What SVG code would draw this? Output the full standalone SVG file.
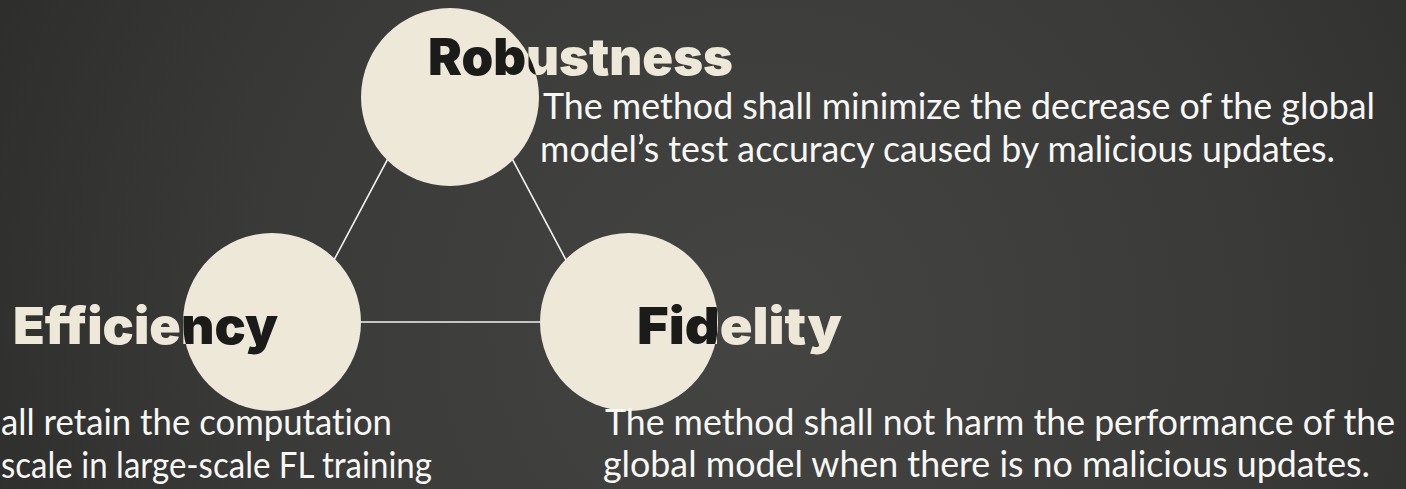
<svg xmlns="http://www.w3.org/2000/svg" width="1406" height="489" viewBox="0 0 1406 489">
  <defs>
    <radialGradient id="bg" cx="760" cy="330" r="820" gradientUnits="userSpaceOnUse">
      <stop offset="0" stop-color="#444443"/>
      <stop offset="0.6" stop-color="#3a3a39"/>
      <stop offset="1" stop-color="#2e2e2d"/>
    </radialGradient>
    <clipPath id="clip-robustness"><circle cx="450" cy="97" r="89"/></clipPath>
    <clipPath id="clip-efficiency"><circle cx="272" cy="322" r="89"/></clipPath>
    <clipPath id="clip-fidelity"><circle cx="629" cy="322" r="89"/></clipPath>
  </defs>
  <style>
    .disc { fill: #ede8d8; }
    .edge { stroke: #f2f2ef; stroke-width: 1.6; fill: none; }
    .title { font-family: Inter, "Liberation Sans", sans-serif; font-weight: 900; font-size: 51px; }
    .title-light { fill: #ede8d8; }
    .title-dark { fill: #1b1b19; }
    .desc { font-family: Lato, "Open Sans", "Liberation Sans", sans-serif; font-size: 36px; fill: #f7f7f4; font-variant-ligatures: none; }
  </style>

  <rect width="1406" height="489" fill="url(#bg)"/>

  <!-- triangle edges, drawn beneath the discs -->
  <g id="connectors">
    <line class="edge" x1="450" y1="42" x2="301" y2="322"/>
    <line class="edge" x1="450" y1="42" x2="599" y2="322"/>
    <line class="edge" x1="301" y1="322" x2="599" y2="322"/>
  </g>

  <g id="node-robustness">
    <circle class="disc" cx="450" cy="97" r="89"/>
    <text class="title title-light" x="428" y="75" textLength="305" lengthAdjust="spacingAndGlyphs">Robustness</text>
    <text class="title title-dark" x="428" y="75" textLength="305" lengthAdjust="spacingAndGlyphs" clip-path="url(#clip-robustness)">Robustness</text>
    <text class="desc" x="543" y="119" textLength="832" lengthAdjust="spacingAndGlyphs">The method shall minimize the decrease of the global</text>
    <text class="desc" x="540" y="162" textLength="795" lengthAdjust="spacingAndGlyphs">model’s test accuracy caused by malicious updates.</text>
  </g>

  <g id="node-efficiency">
    <circle class="disc" cx="272" cy="322" r="89"/>
    <text class="title title-light" x="13" y="344" textLength="265" lengthAdjust="spacingAndGlyphs">Efficiency</text>
    <text class="title title-dark" x="13" y="344" textLength="265" lengthAdjust="spacingAndGlyphs" clip-path="url(#clip-efficiency)">Efficiency</text>
    <text class="desc" x="1" y="435" textLength="391" lengthAdjust="spacingAndGlyphs">all retain the computation</text>
    <text class="desc" x="1" y="478" textLength="431" lengthAdjust="spacingAndGlyphs">scale in large-scale FL training</text>
  </g>

  <g id="node-fidelity">
    <circle class="disc" cx="629" cy="322" r="89"/>
    <text class="title title-light" x="637" y="344" textLength="205" lengthAdjust="spacingAndGlyphs">Fidelity</text>
    <text class="title title-dark" x="637" y="344" textLength="205" lengthAdjust="spacingAndGlyphs" clip-path="url(#clip-fidelity)">Fidelity</text>
    <text class="desc" x="605" y="435" textLength="790" lengthAdjust="spacingAndGlyphs">The method shall not harm the performance of the</text>
    <text class="desc" x="603" y="477" textLength="767" lengthAdjust="spacingAndGlyphs">global model when there is no malicious updates.</text>
  </g>
</svg>
